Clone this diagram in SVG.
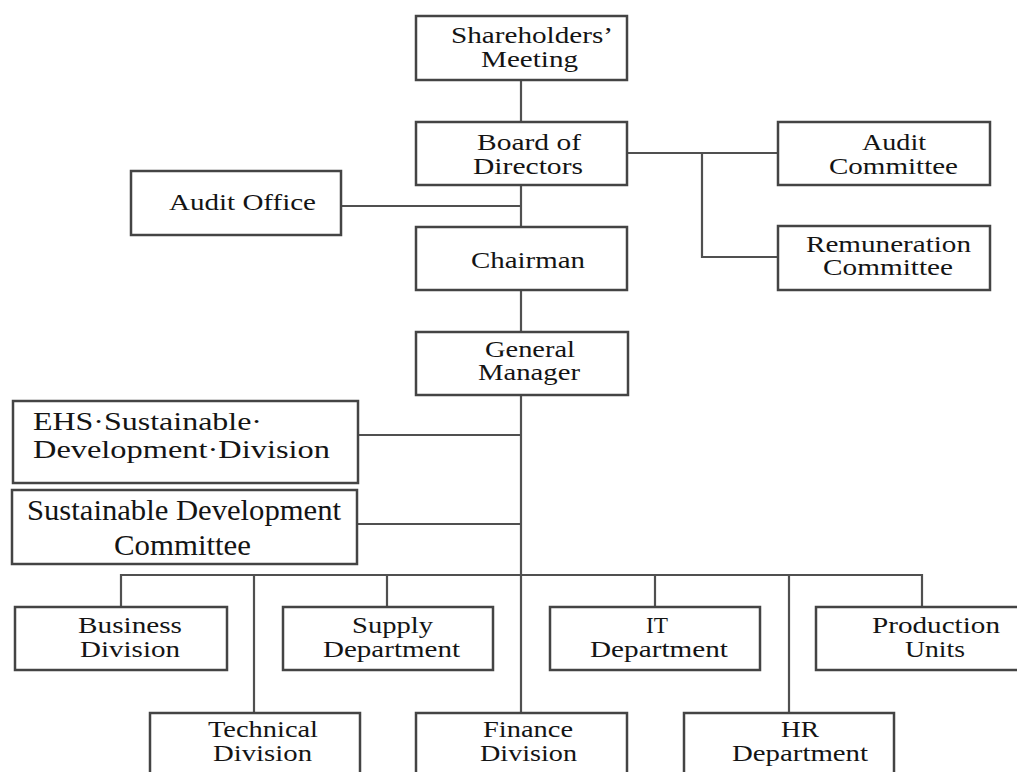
<svg xmlns="http://www.w3.org/2000/svg" width="1017" height="772" viewBox="0 0 1017 772">
<style>
.box{fill:#fff;stroke:#444;stroke-width:2.5}
.ln{fill:none;stroke:#505050;stroke-width:2.2}
text{font-family:'Liberation Serif','Times New Roman',Times,serif;font-size:23px;fill:#141414}
.big{font-size:30px}
.ehs{font-size:25px}
</style>
<rect width="1017" height="772" fill="#fff"/>
<g id="connectors">
<path class="ln" d="M521 80V575"/>
<path class="ln" d="M341 206H521"/>
<path class="ln" d="M627 153H778M702 153V257H778"/>
<path class="ln" d="M358 435H521M357 524H521"/>
<path class="ln" d="M121 607V575H922V607"/>
<path class="ln" d="M387 575V607M655 575V607M254 575V713M521 575V713M789 575V713"/>
</g>
<g font-family="Liberation Serif, serif">
<g id="shareholders"><rect class="box" x="416" y="16" width="211" height="64"/>
<text x="451" y="43" textLength="162" lengthAdjust="spacingAndGlyphs">Shareholders’</text>
<text x="481" y="67" textLength="97" lengthAdjust="spacingAndGlyphs">Meeting</text></g>
<g id="board"><rect class="box" x="416" y="122" width="211" height="63"/>
<text x="477" y="150" textLength="104" lengthAdjust="spacingAndGlyphs">Board of</text>
<text x="473" y="174" textLength="110" lengthAdjust="spacingAndGlyphs">Directors</text></g>
<g id="audit-office"><rect class="box" x="131" y="171" width="210" height="64"/>
<text x="169" y="210" textLength="147" lengthAdjust="spacingAndGlyphs" style="font-size:24px">Audit Office</text></g>
<g id="chairman"><rect class="box" x="416" y="227" width="211" height="63"/>
<text x="471" y="268" textLength="114" lengthAdjust="spacingAndGlyphs" style="font-size:24px">Chairman</text></g>
<g id="audit-committee"><rect class="box" x="778" y="122" width="212" height="63"/>
<text x="862" y="150" textLength="64" lengthAdjust="spacingAndGlyphs">Audit</text>
<text x="829" y="174" textLength="129" lengthAdjust="spacingAndGlyphs">Committee</text></g>
<g id="remuneration"><rect class="box" x="778" y="226" width="212" height="64"/>
<text x="806" y="252" textLength="165" lengthAdjust="spacingAndGlyphs">Remuneration</text>
<text x="823" y="275" textLength="130" lengthAdjust="spacingAndGlyphs">Committee</text></g>
<g id="general-manager"><rect class="box" x="416" y="332" width="212" height="63"/>
<text x="485" y="357" textLength="90" lengthAdjust="spacingAndGlyphs">General</text>
<text x="478" y="380" textLength="102" lengthAdjust="spacingAndGlyphs">Manager</text></g>
<g id="ehs"><rect class="box" x="13" y="401" width="345" height="82"/>
<text class="ehs" x="33" y="430" textLength="229" lengthAdjust="spacingAndGlyphs">EHS·Sustainable·</text>
<text class="ehs" x="33" y="458" textLength="297" lengthAdjust="spacingAndGlyphs">Development·Division</text></g>
<g id="sdc"><rect class="box" x="12" y="490" width="345" height="74"/>
<text class="big" x="27" y="520" textLength="314" lengthAdjust="spacingAndGlyphs">Sustainable Development</text>
<text class="big" x="114" y="555" textLength="137" lengthAdjust="spacingAndGlyphs">Committee</text></g>
<g id="business"><rect class="box" x="15" y="607" width="212" height="63"/>
<text x="78" y="633" textLength="104" lengthAdjust="spacingAndGlyphs">Business</text>
<text x="80" y="657" textLength="100" lengthAdjust="spacingAndGlyphs">Division</text></g>
<g id="supply"><rect class="box" x="283" y="607" width="210" height="63"/>
<text x="352" y="633" textLength="81" lengthAdjust="spacingAndGlyphs">Supply</text>
<text x="323" y="657" textLength="137" lengthAdjust="spacingAndGlyphs">Department</text></g>
<g id="it"><rect class="box" x="550" y="607" width="210" height="63"/>
<text x="646" y="633" textLength="22" lengthAdjust="spacingAndGlyphs">IT</text>
<text x="590" y="657" textLength="138" lengthAdjust="spacingAndGlyphs">Department</text></g>
<g id="production"><rect class="box" x="816" y="607" width="214" height="63"/>
<text x="872" y="633" textLength="128" lengthAdjust="spacingAndGlyphs">Production</text>
<text x="905" y="657" textLength="60" lengthAdjust="spacingAndGlyphs">Units</text></g>
<g id="technical"><rect class="box" x="150" y="713" width="210" height="70"/>
<text x="208" y="737" textLength="110" lengthAdjust="spacingAndGlyphs">Technical</text>
<text x="213" y="761" textLength="99" lengthAdjust="spacingAndGlyphs">Division</text></g>
<g id="finance"><rect class="box" x="416" y="713" width="211" height="70"/>
<text x="483" y="737" textLength="90" lengthAdjust="spacingAndGlyphs">Finance</text>
<text x="480" y="761" textLength="97" lengthAdjust="spacingAndGlyphs">Division</text></g>
<g id="hr"><rect class="box" x="684" y="713" width="210" height="70"/>
<text x="781" y="737" textLength="38" lengthAdjust="spacingAndGlyphs">HR</text>
<text x="732" y="761" textLength="136" lengthAdjust="spacingAndGlyphs">Department</text></g>
</g>
</svg>
